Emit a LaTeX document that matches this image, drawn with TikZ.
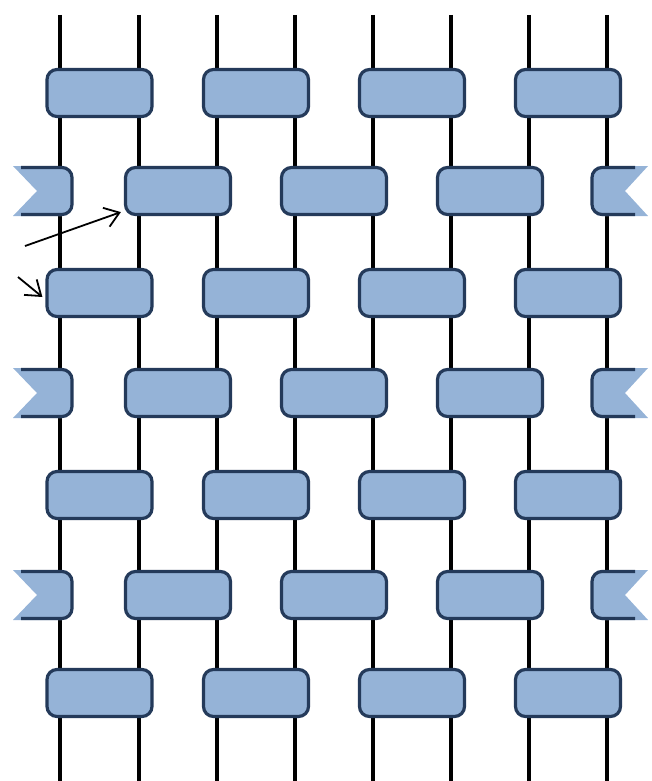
\documentclass[tikz,border=0pt]{standalone}
\usetikzlibrary{arrows.meta}
\definecolor{gatefill}{RGB}{149,179,215}
\definecolor{gateline}{RGB}{36,58,90}

\begin{document}
\begin{tikzpicture}[x=1pt,y=-1pt,
    wire/.style={line width=3.4pt, black},
    gate/.style={draw=gateline, fill=gatefill, line width=3.2pt, rounded corners=10pt,
                 minimum width=105pt, minimum height=47pt, inner sep=0pt},
    cutedge/.style={draw=gateline, line width=3.2pt, rounded corners=10pt},
    pointer/.style={-{Straight Barb[length=14pt,width=20pt]}, line width=1.8pt}]
  \useasboundingbox (0,0) rectangle (651,781);
  % wires
  \foreach \i/\x in {1/60,2/139,3/217,4/295,5/373,6/451,7/529,8/607}{
    \coordinate (top-\i) at (\x,15);
    \coordinate (bot-\i) at (\x,781);
    \draw[wire] (top-\i) -- (bot-\i);
  }
  % gates on wires 1-2, 3-4, 5-6, 7-8
  \foreach \r/\y in {1/93,3/293,5/495,7/693}
    \foreach \c/\x in {1/99.5,2/256,3/412,4/568}
      \node[gate] (g-\r-\c) at (\x,\y) {};
  % gates on wires 2-3, 4-5, 6-7, cut ones at the edges
  \foreach \r/\y in {2/191,4/393,6/595}{
    \foreach \c/\x in {1/178,2/334,3/490}
      \node[gate] (g-\r-\c) at (\x,\y) {};
    \begin{scope}
      \clip (13,\y-25) -- (37,\y) -- (13,\y+25) -- (13,\y+40) -- (90,\y+40)
            -- (90,\y-40) -- (13,\y-40) -- cycle;
      \fill[gatefill, rounded corners=10pt] (3,\y-25) rectangle (72,\y+25);
    \end{scope}
    \draw[cutedge] (21,\y-23.5) -- (72,\y-23.5) -- (72,\y+23.5) -- (21,\y+23.5);
    \begin{scope}
      \clip (648,\y-25) -- (625,\y) -- (648,\y+25) -- (648,\y+40) -- (570,\y+40)
            -- (570,\y-40) -- (648,\y-40) -- cycle;
      \fill[gatefill, rounded corners=10pt] (592,\y-25) rectangle (658,\y+25);
    \end{scope}
    \draw[cutedge] (635,\y-23.5) -- (592,\y-23.5) -- (592,\y+23.5) -- (635,\y+23.5);
  }
  % pointers
  \coordinate (tail-a) at (25,246);
  \coordinate (tail-b) at (18,277);
  \draw[pointer] (tail-a) -- ([shift={(-3,-4)}]g-2-1.south west);
  \draw[pointer] (tail-b) -- ([shift={(-3,4)}]g-3-1.west);
\end{tikzpicture}
\end{document}
